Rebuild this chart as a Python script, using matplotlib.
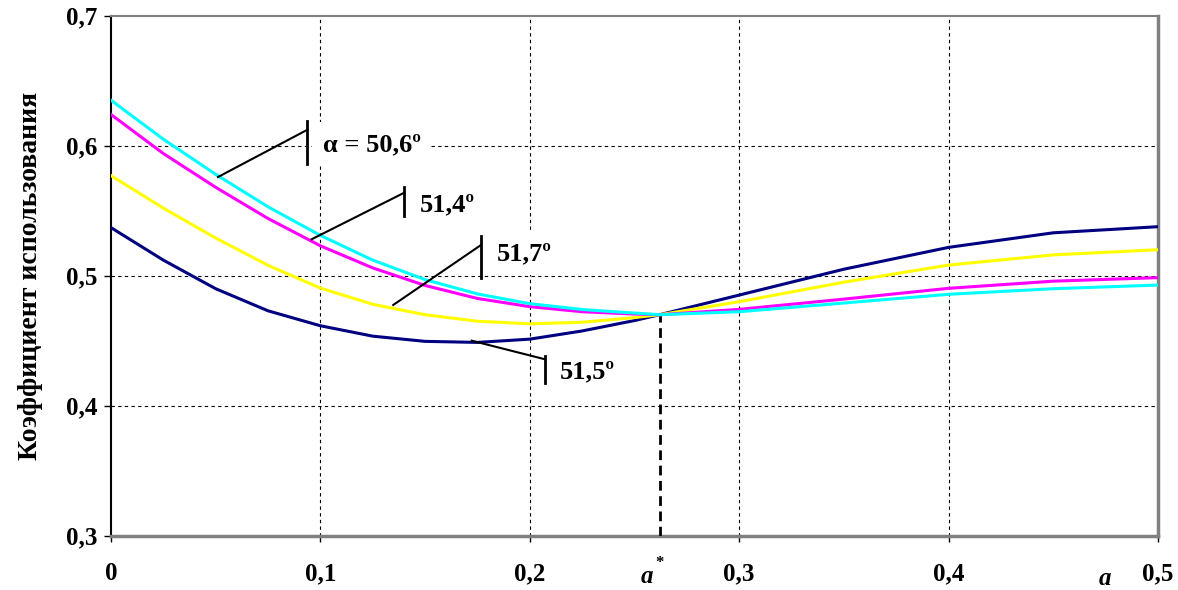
import matplotlib
matplotlib.use("Agg")
import matplotlib.pyplot as plt

# ---- data ----
x = [0, 0.025, 0.05, 0.075, 0.1, 0.125, 0.15, 0.175, 0.2, 0.225, 0.25, 0.262,
     0.3, 0.35, 0.4, 0.45, 0.5]
cyan_506 = [0.635, 0.605, 0.578, 0.553, 0.531, 0.512, 0.497, 0.486, 0.4785, 0.474,
            0.4713, 0.470, 0.4723, 0.479, 0.4857, 0.490, 0.4928]
magenta_514 = [0.624, 0.594, 0.568, 0.544, 0.523, 0.506, 0.4925, 0.4825, 0.4762, 0.4723,
               0.4705, 0.470, 0.4741, 0.482, 0.4903, 0.4958, 0.4985]
yellow_517 = [0.577, 0.552, 0.529, 0.508, 0.4905, 0.478, 0.4700, 0.4650, 0.4630, 0.4642,
              0.4678, 0.470, 0.480, 0.495, 0.5082, 0.516, 0.520]
navy_515 = [0.537, 0.512, 0.490, 0.473, 0.4615, 0.4535, 0.4495, 0.4487, 0.4512, 0.4575,
            0.4655, 0.470, 0.4851, 0.505, 0.5218, 0.533, 0.5377]

a_star = 0.262
a_star_y = 0.470

xticks = [0, 0.1, 0.2, 0.3, 0.4, 0.5]
xtick_labels = ["0", "0,1", "0,2", "0,3", "0,4", "0,5"]
yticks = [0.3, 0.4, 0.5, 0.6, 0.7]
ytick_labels = ["0,3", "0,4", "0,5", "0,6", "0,7"]

labels = ["α = 50,6º", "51,4º", "51,7º", "51,5º"]

# ---- figure ----
SERIF = "Liberation Serif"
fig = plt.figure(figsize=(11.78, 5.90), dpi=100)
ax = fig.add_axes([0.0942, 0.092, 0.8888, 0.8814])

ax.set_xlim(0, 0.5)
ax.set_ylim(0.3, 0.7)

# grid
for gx in xticks[1:-1]:
    ax.axvline(gx, color="black", lw=0.8, ls=(0, (3, 3)), zorder=1)
for gy in yticks[1:-1]:
    ax.axhline(gy, color="black", lw=0.8, ls=(0, (3, 3)), zorder=1)

# curves
ax.plot(x, navy_515, color="#000080", lw=2.2, zorder=4)
ax.plot(x, yellow_517, color="#FFFF00", lw=2.2, zorder=4)
ax.plot(x, magenta_514, color="#FF00FF", lw=2.2, zorder=4)
ax.plot(x, cyan_506, color="#00FFFF", lw=2.2, zorder=4)

# a* dashed line
ax.plot([a_star, a_star], [0.3, a_star_y], color="black", lw=2, dashes=(3.5, 2), zorder=3)

# spines
ax.spines["left"].set_color("black")
ax.spines["left"].set_linewidth(1.5)
ax.spines["top"].set_color("#808080")
ax.spines["top"].set_linewidth(1.5)
ax.spines["right"].set_color("#808080")
ax.spines["right"].set_linewidth(2.5)
ax.spines["bottom"].set_color("#808080")
ax.spines["bottom"].set_linewidth(2.5)

ax.set_xticks(xticks)
ax.set_xticklabels(xtick_labels)
ax.set_yticks(yticks)
ax.set_yticklabels(ytick_labels)
ax.tick_params(axis="x", direction="out", length=4, width=1, pad=15, color="black")
ax.tick_params(axis="y", direction="out", length=5, width=1, pad=5, color="black")
for lab in ax.get_xticklabels() + ax.get_yticklabels():
    lab.set_fontfamily(SERIF)
    lab.set_fontweight("bold")
    lab.set_fontsize(18)

ax.set_ylabel("Коэффициент использования", fontfamily=SERIF, fontweight="bold",
              fontsize=20, labelpad=16)

# a* and a labels
ax.text(a_star - 0.006, -0.079, "a", transform=ax.get_xaxis_transform(),
        fontfamily=SERIF, fontweight="bold", fontstyle="italic", fontsize=18,
        ha="center", va="center")
ax.text(a_star, -0.052, "*", transform=ax.get_xaxis_transform(),
        fontfamily=SERIF, fontweight="bold", fontsize=12, ha="center", va="center")
ax.text(0.4745, -0.083, "a", transform=ax.get_xaxis_transform(),
        fontfamily=SERIF, fontweight="bold", fontstyle="italic", fontsize=18,
        ha="center", va="center")

# callouts: (line start, line end/bar x, bar y-range, text pos)
callouts = [
    ((0.0511, 0.5759), (0.0936, 0.6121), (0.586, 0.619), (0.1012, 0.601)),
    ((0.0958, 0.5280), (0.1400, 0.5638), (0.5459, 0.5685), (0.1476, 0.5544)),
    ((0.1348, 0.4775), (0.1767, 0.5236), (0.4982, 0.5305), (0.1842, 0.5172)),
    ((0.1723, 0.4500), (0.2073, 0.4357), (0.4178, 0.4382), (0.2144, 0.4262)),
]
for lab, (p0, p1, bar, tpos) in zip(labels, callouts):
    ax.plot([p0[0], p1[0]], [p0[1], p1[1]], color="black", lw=1.5, zorder=6)
    ax.plot([p1[0], p1[0]], [bar[0], bar[1]], color="black", lw=2, zorder=6)
    ax.text(tpos[0], tpos[1], lab, fontfamily=SERIF, fontweight="bold", fontsize=19,
            ha="left", va="center", zorder=5,
            bbox=dict(boxstyle="square,pad=0.4", fc="white", ec="none"))

fig.savefig("out.png", dpi=100)
